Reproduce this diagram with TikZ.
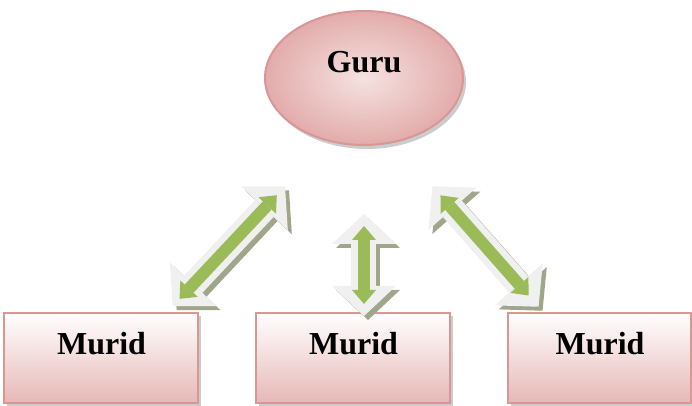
\documentclass[tikz,border=0pt]{standalone}
\usepackage{color}
\usepackage{fontspec}
\setmainfont{Liberation Serif}
\usepackage{tikz}
\usetikzlibrary{shapes,arrows.meta,positioning}
\usetikzlibrary{shadows}
\definecolor{rimpink}{RGB}{217,150,148}
\definecolor{boxpink}{RGB}{230,184,183}
\definecolor{guruin}{RGB}{245,226,225}
\definecolor{guruout}{RGB}{226,172,171}
\definecolor{arrowgrey}{RGB}{240,240,240}
\definecolor{arrowgreen}{RGB}{155,187,89}
\definecolor{shadowolive}{RGB}{160,166,138}
\tikzstyle{murid} = [rectangle, draw=rimpink, line width=1pt, top color=white, bottom color=boxpink, minimum width=97pt, inner ysep=0pt, text height=21pt, text depth=24pt, font=\fontsize{16}{19}\selectfont\bfseries, drop shadow={shadow xshift=1.5pt, shadow yshift=-1.5pt, opacity=0.4}]
\tikzstyle{guru} = [ellipse, draw=rimpink, line width=1pt, inner color=guruin, outer color=guruout, minimum width=99pt, minimum height=67pt, inner sep=0pt, text height=10pt, text depth=15pt, font=\fontsize{16}{19}\selectfont\bfseries, drop shadow={shadow xshift=1.5pt, shadow yshift=-2pt, opacity=0.4}]
\tikzstyle{outerarrow} = [line width=12.5pt, draw=arrowgrey, {Triangle[width=32pt,length=15pt,line width=0pt]}-{Triangle[width=32pt,length=15pt,line width=0pt]}]
\tikzstyle{arrowshadow} = [outerarrow, draw=shadowolive, transform canvas={xshift=2pt,yshift=-2pt}]
\tikzstyle{innerarrow} = [line width=6pt, draw=arrowgreen, {Triangle[width=12pt,length=7pt,line width=0pt]}-{Triangle[width=12pt,length=7pt,line width=0pt]}]

\begin{document}
\begin{tikzpicture}[node distance=83pt and 28pt]
            \useasboundingbox (-176.75pt,-24pt) rectangle (169.25pt,179pt);
            \node [murid] (murid2) at (0,0) {Murid};
            \node [murid, left= of murid2] (murid1) {Murid};
            \node [murid, minimum width=91.5pt, right= of murid2] (murid3) {Murid};
            \node [guru, above= of murid2, xshift=5.25pt] (guru) {Guru};

            % shadows of the double arrows
            \draw[arrowshadow, shorten <=31pt, shorten >=4pt](guru.240) -- (murid1.35);
            \draw[arrowshadow, shorten <=34pt, shorten >=-2pt](guru.south) -- (guru.south |- murid2.north);
            \draw[arrowshadow, shorten <=29pt, shorten >=3.5pt](guru.295) -- (murid3.141);

            \draw[outerarrow, shorten <=31pt, shorten >=4pt](guru.240) -- (murid1.35);
            \draw[outerarrow, shorten <=34pt, shorten >=-2pt](guru.south) -- (guru.south |- murid2.north);
            \draw[outerarrow, shorten <=29pt, shorten >=3.5pt](guru.295) -- (murid3.141);

            \draw[innerarrow, shorten <=37pt, shorten >=9pt](guru.240) -- (murid1.35);
            \draw[innerarrow, shorten <=40pt, shorten >=4pt](guru.south) -- (guru.south |- murid2.north);
            \draw[innerarrow, shorten <=35pt, shorten >=11pt](guru.295) -- (murid3.141);
        \end{tikzpicture}
\end{document}
